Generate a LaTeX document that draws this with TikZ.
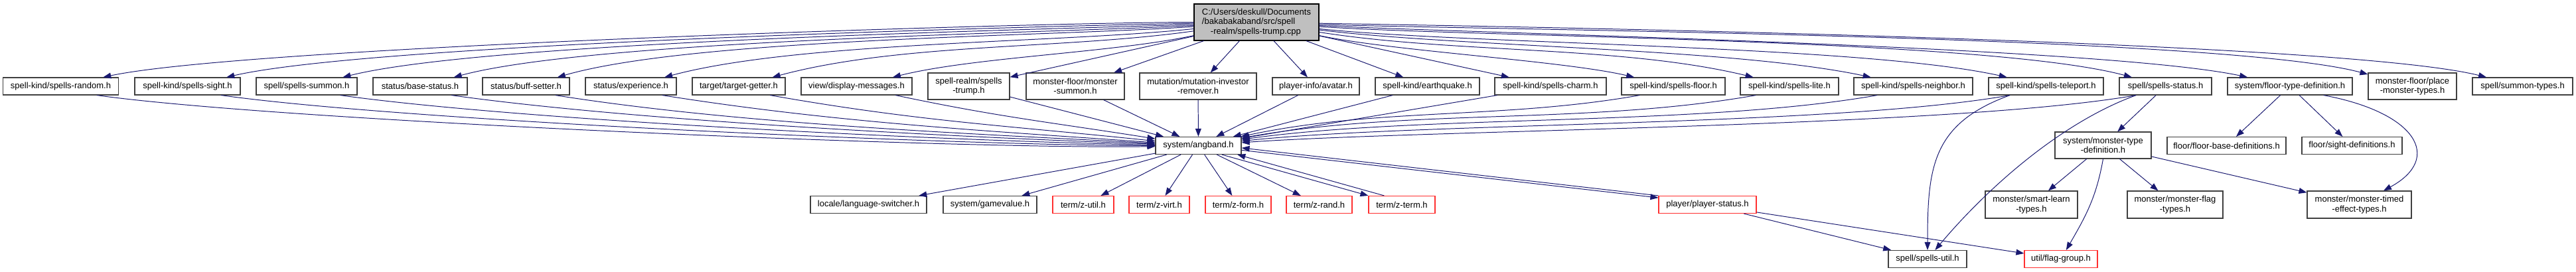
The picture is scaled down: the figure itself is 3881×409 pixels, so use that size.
\documentclass[tikz,border=0pt]{standalone}
\usepackage{fontspec}
\setmainfont{Liberation Sans}
\usepackage{xcolor}
\usepackage{tikz}
\usetikzlibrary{arrows.meta,calc,positioning}
\definecolor{EdgeNavy}{HTML}{191970}
\definecolor{RootFill}{HTML}{BFBFBF}
\definecolor{BoxEdge}{HTML}{404040}
\definecolor{TruncRed}{HTML}{FF3030}
\tikzset{
    filebox/.style={draw=BoxEdge, fill=white, line width=0.8pt, inner sep=0pt,
        align=center, minimum height=6.5mm, font=\fontsize{9.25pt}{10.4pt}\selectfont},
    redbox/.style={filebox, draw=TruncRed},
    rootbox/.style={filebox, draw=black, fill=RootFill, minimum height=13.75mm,
        align=left, font=\fontsize{9.25pt}{10.2pt}\selectfont},
    inc/.style={draw=EdgeNavy, line width=0.7pt, -{Triangle[length=3mm,width=2.2mm]}}
}

\begin{document}
\begin{tikzpicture}[x=0.25mm, y=0.25mm]
    \useasboundingbox (0,0) rectangle (3881,409);

    \node[rootbox, minimum width=47mm] (root) at (1893,375.5)
        {C:/Users/deskull/Documents\\/bakabakaband/src/spell\\\hspace*{3.25mm}-realm/spells-trump.cpp};

    \node[filebox, minimum width=43.5mm] (srandom) at (91.5,279) {spell-kind/spells-random.h};
    \node[filebox, minimum width=39.75mm] (ssight) at (282.5,279) {spell-kind/spells-sight.h};
    \node[filebox, minimum width=38mm] (ssummon) at (462,279) {spell/spells-summon.h};
    \node[filebox, minimum width=35.5mm] (basestat) at (633,279) {status/base-status.h};
    \node[filebox, minimum width=32.75mm] (buffset) at (792.5,279) {status/buff-setter.h};
    \node[filebox, minimum width=34.25mm] (exper) at (950.5,279) {status/experience.h};
    \node[filebox, minimum width=35mm] (tgetter) at (1113,279) {target/target-getter.h};
    \node[filebox, minimum width=41.75mm] (dispmsg) at (1290.5,279) {view/display-messages.h};
    \node[filebox, minimum width=30.75mm, minimum height=10mm] (trump) at (1459.5,279) {spell-realm/spells\\-trump.h};
    \node[filebox, minimum width=37mm, minimum height=10mm] (msummon) at (1620,279) {monster-floor/monster\\-summon.h};
    \node[filebox, minimum width=44mm, minimum height=10mm] (mutinv) at (1805,279) {mutation/mutation-investor\\-remover.h};
    \node[filebox, minimum width=32.75mm] (avatar) at (1982.5,279) {player-info/avatar.h};
    \node[filebox, minimum width=39.25mm] (quake) at (2150.5,279) {spell-kind/earthquake.h};
    \node[filebox, minimum width=42mm] (charm) at (2336,279) {spell-kind/spells-charm.h};
    \node[filebox, minimum width=39mm] (sfloor) at (2521,279) {spell-kind/spells-floor.h};
    \node[filebox, minimum width=37mm] (slite) at (2696,279) {spell-kind/spells-lite.h};
    \node[filebox, minimum width=44.75mm] (neighbor) at (2882.5,279) {spell-kind/spells-neighbor.h};
    \node[filebox, minimum width=43.25mm] (teleport) at (3082.5,279) {spell-kind/spells-teleport.h};
    \node[filebox, minimum width=34.75mm] (spstatus) at (3262.5,279) {spell/spells-status.h};
    \node[filebox, minimum width=47mm] (floortype) at (3450,279) {system/floor-type-definition.h};
    \node[filebox, minimum width=33.25mm, minimum height=10mm] (placemon) at (3634.5,279) {monster-floor/place\\-monster-types.h};
    \node[filebox, minimum width=37.75mm] (sumtypes) at (3800.5,279) {spell/summon-types.h};

    \node[filebox, minimum width=32.25mm] (angband) at (1805.5,189.5) {system/angband.h};
    \node[filebox, minimum width=36.25mm, minimum height=10mm] (mtypedef) at (3168.5,190) {system/monster-type\\-definition.h};
    \node[filebox, minimum width=44.75mm] (floorbase) at (3354.5,189.5) {floor/floor-base-definitions.h};
    \node[filebox, minimum width=37.75mm] (sightdef) at (3543.5,189.5) {floor/sight-definitions.h};

    \node[filebox, minimum width=43.75mm] (langsw) at (1308.5,100.5) {locale/language-switcher.h};
    \node[filebox, minimum width=35.25mm] (gamevalue) at (1491.5,100.5) {system/gamevalue.h};
    \node[redbox, minimum width=23mm] (zutil) at (1632,100.5) {term/z-util.h};
    \node[redbox, minimum width=22.75mm] (zvirt) at (1746.5,100.5) {term/z-virt.h};
    \node[redbox, minimum width=24.75mm] (zform) at (1865.5,100.5) {term/z-form.h};
    \node[redbox, minimum width=24.75mm] (zrand) at (1987.5,100.5) {term/z-rand.h};
    \node[redbox, minimum width=25mm] (zterm) at (2112,100.5) {term/z-term.h};
    \node[redbox, minimum width=36.75mm] (pstatus) at (2572.5,100.5) {player/player-status.h};
    \node[filebox, minimum width=34.75mm, minimum height=10.25mm] (smartlearn) at (3060.5,100.5) {monster/smart-learn\\-types.h};
    \node[filebox, minimum width=36mm, minimum height=10.25mm] (mflag) at (3277,100.5) {monster/monster-flag\\-types.h};
    \node[filebox, minimum width=39.25mm, minimum height=10.25mm] (mtimed) at (3554.5,100.5) {monster/monster-timed\\-effect-types.h};

    \node[filebox, minimum width=29.5mm] (spellsutil) at (2904,18.5) {spell/spells-util.h};
    \node[redbox, minimum width=27.5mm] (flaggroup) at (3105,18.5) {util/flag-group.h};

    \draw[inc] (root.180) .. controls +(180:226) and +(12:226) .. (srandom.12);
    \draw[inc] (root.181) .. controls +(181:229) and +(13:229) .. (ssight.13);
    \draw[inc] (root.182) .. controls +(182:227) and +(14:227) .. (ssummon.14);
    \draw[inc] (root.183) .. controls +(183:219) and +(15:219) .. (basestat.15);
    \draw[inc] (root.184) .. controls +(184:215) and +(16:215) .. (buffset.16);
    \draw[inc] (root.186) .. controls +(186:208) and +(15:208) .. (exper.15);
    \draw[inc] (root.188) .. controls +(188:201) and +(15:201) .. (tgetter.15);
    \draw[inc] (root.192) .. controls +(192:126) and +(14:126) .. (dispmsg.14);
    \draw[inc] (root) -- (trump);
    \draw[inc] (root) -- (msummon);
    \draw[inc] (root) -- (mutinv);
    \draw[inc] (root) -- (avatar);
    \draw[inc] (root) -- (quake);
    \draw[inc] (root) -- (charm);
    \draw[inc] (root.-12) .. controls +(-12:113) and +(167:113) .. (sfloor.167);
    \draw[inc] (root.-9) .. controls +(-9:206) and +(166.5:206) .. (slite.166.5);
    \draw[inc] (root.-7) .. controls +(-7:213) and +(168:213) .. (neighbor.168);
    \draw[inc] (root.-6) .. controls +(-6:224) and +(167.5:224) .. (teleport.167.5);
    \draw[inc] (root.-4) .. controls +(-4:226) and +(165:226) .. (spstatus.165);
    \draw[inc] (root.-3) .. controls +(-3:225) and +(168:225) .. (floortype.168);
    \draw[inc] (root.-2) .. controls +(-2:229) and +(165:229) .. (placemon.165);
    \draw[inc] (root.-1) .. controls +(-1:235) and +(166:235) .. (sumtypes.166);

    \draw[inc] (srandom.-14) .. controls +(-8:282) and +(181:282) .. (angband.181);
    \draw[inc] (ssight.-15) .. controls +(-8:282) and +(180:282) .. (angband.180);
    \draw[inc] (ssummon.-15.5) .. controls +(-8:280) and +(179:280) .. (angband.179);
    \draw[inc] (basestat.-16.5) .. controls +(-8:283) and +(178:283) .. (angband.178);
    \draw[inc] (buffset.-17) .. controls +(-9:280) and +(177:280) .. (angband.177);
    \draw[inc] (exper.-16.5) .. controls +(-9:263) and +(176:263) .. (angband.176);
    \draw[inc] (tgetter.-16) .. controls +(-10:228) and +(174:228) .. (angband.174);
    \draw[inc] (dispmsg.-13) .. controls +(-12:157) and +(171:157) .. (angband.171);
    \draw[inc] (trump) -- (angband);
    \draw[inc] (msummon) -- (angband);
    \draw[inc] (mutinv) -- (angband);
    \draw[inc] (avatar) -- (angband);
    \draw[inc] (quake) -- (angband);
    \draw[inc] (charm) -- (angband);
    \draw[inc] (sfloor.195) .. controls +(190:211) and +(12:211) .. (angband.12);
    \draw[inc] (slite.195) .. controls +(190:259) and +(10:259) .. (angband.10);
    \draw[inc] (neighbor.194) .. controls +(190:270) and +(8:270) .. (angband.8);
    \draw[inc] (teleport.194) .. controls +(190:272) and +(6:272) .. (angband.6);
    \draw[inc] (spstatus.197) .. controls +(190:280) and +(4:280) .. (angband.4);

    \draw[inc] (teleport.194) .. controls +(200:125) and +(90:125) .. (spellsutil.north);
    \draw[inc] (spstatus.197) .. controls +(200:121) and +(50:121) .. (spellsutil.50);
    \draw[inc] (spstatus) -- (mtypedef);

    \draw[inc] (floortype) -- (floorbase);
    \draw[inc] (floortype) -- (sightdef);
    \draw[inc] (floortype.-15) .. controls +(140,-26) and +(90,49) .. (mtimed.30);

    \draw[inc] (angband) -- (langsw);
    \draw[inc] (angband) -- (gamevalue);
    \draw[inc] (angband) -- (zutil);
    \draw[inc] (angband) -- (zvirt);
    \draw[inc] (angband) -- (zform);
    \draw[inc] (angband) -- (zrand);
    \draw[inc] (angband.-21) -- (zterm.north west);
    \draw[inc] (zterm.153) -- (angband.-13);
    \draw[inc] (angband.-6) -- (pstatus.172);
    \draw[inc] (pstatus.north west) -- (angband.-3);

    \draw[inc] (pstatus) -- (spellsutil);
    \draw[inc] (pstatus) -- (flaggroup);

    \draw[inc] (mtypedef) -- (smartlearn);
    \draw[inc] (mtypedef) -- (mflag);
    \draw[inc] (mtypedef.south) .. controls +(-100:59) and +(60:59) .. (flaggroup.60);
    \draw[inc] (mtypedef) -- (mtimed);
\end{tikzpicture}
\end{document}
